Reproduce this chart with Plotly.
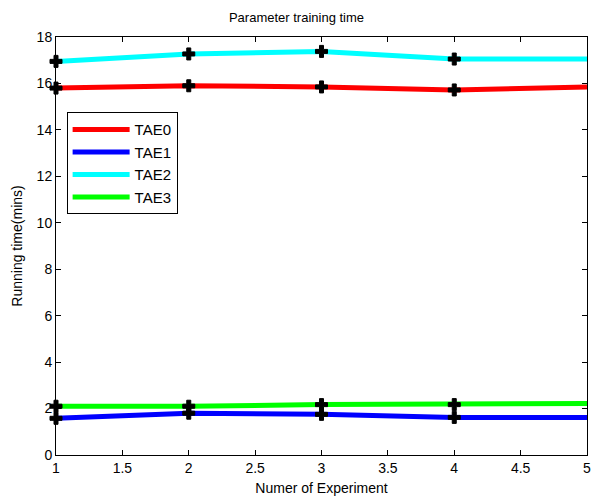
import plotly.graph_objects as go

experiments = [1, 2, 3, 4, 5]
tae0 = [15.8, 15.9, 15.85, 15.72, 15.85]
tae1 = [1.58, 1.8, 1.75, 1.62, 1.62]
tae2 = [16.95, 17.27, 17.38, 17.05, 17.05]
tae3 = [2.1, 2.1, 2.17, 2.17, 2.22]
names = ["TAE0", "TAE1", "TAE2", "TAE3"]
colors = ["#ff0000", "#0000ff", "#00ffff", "#00ff00"]
x_ticks = [1, 1.5, 2, 2.5, 3, 3.5, 4, 4.5, 5]
x_tick_labels = ["1", "1.5", "2", "2.5", "3", "3.5", "4", "4.5", "5"]
y_ticks = [0, 2, 4, 6, 8, 10, 12, 14, 16, 18]

FONT = "Liberation Sans, Arial"
fig = go.Figure()
series = [tae0, tae1, tae2, tae3]
for name, col, ys in zip(names, colors, series):
    fig.add_trace(go.Scatter(x=experiments, y=ys, mode="lines", name=name,
                             line=dict(color=col, width=5)))
for ys in series:
    fig.add_trace(go.Scatter(x=experiments[:4], y=ys[:4], mode="markers", showlegend=False,
                             cliponaxis=False,
                             marker=dict(symbol="cross", color="black", size=10,
                                         line=dict(width=1, color="black"))))

axis_common = dict(showline=True, linecolor="black", linewidth=1, mirror="ticks",
                   ticks="inside", ticklen=5, tickcolor="black", showgrid=False, zeroline=False,
                   automargin=False,
                   tickfont=dict(family=FONT, size=14, color="black"))
fig.update_xaxes(range=[1, 5], tickvals=x_ticks, ticktext=x_tick_labels,
                 title=dict(text="Numer of Experiment", standoff=8,
                            font=dict(family=FONT, size=14, color="black")),
                 **axis_common)
fig.update_yaxes(range=[0, 18], tickvals=y_ticks,
                 title=dict(text="Running time(mins)", standoff=10,
                            font=dict(family=FONT, size=14, color="black")),
                 **axis_common)
fig.update_layout(
    width=593, height=498,
    margin=dict(l=56, r=6, t=37, b=43),
    paper_bgcolor="white", plot_bgcolor="white",
    title=dict(text="Parameter training time", x=0.5, xanchor="center", y=0.964, yanchor="middle",
               font=dict(family=FONT, size=13, color="black")),
    legend=dict(x=0.02, y=0.82, xanchor="left", yanchor="top",
                bordercolor="black", borderwidth=1, bgcolor="white",
                font=dict(family=FONT, size=15, color="black"),
                tracegroupgap=0, itemwidth=57),
    showlegend=True,
)
fig.write_html("out.html", config={"displayModeBar": False},
               post_script="document.body.style.margin='0';document.body.style.overflow='hidden';")
